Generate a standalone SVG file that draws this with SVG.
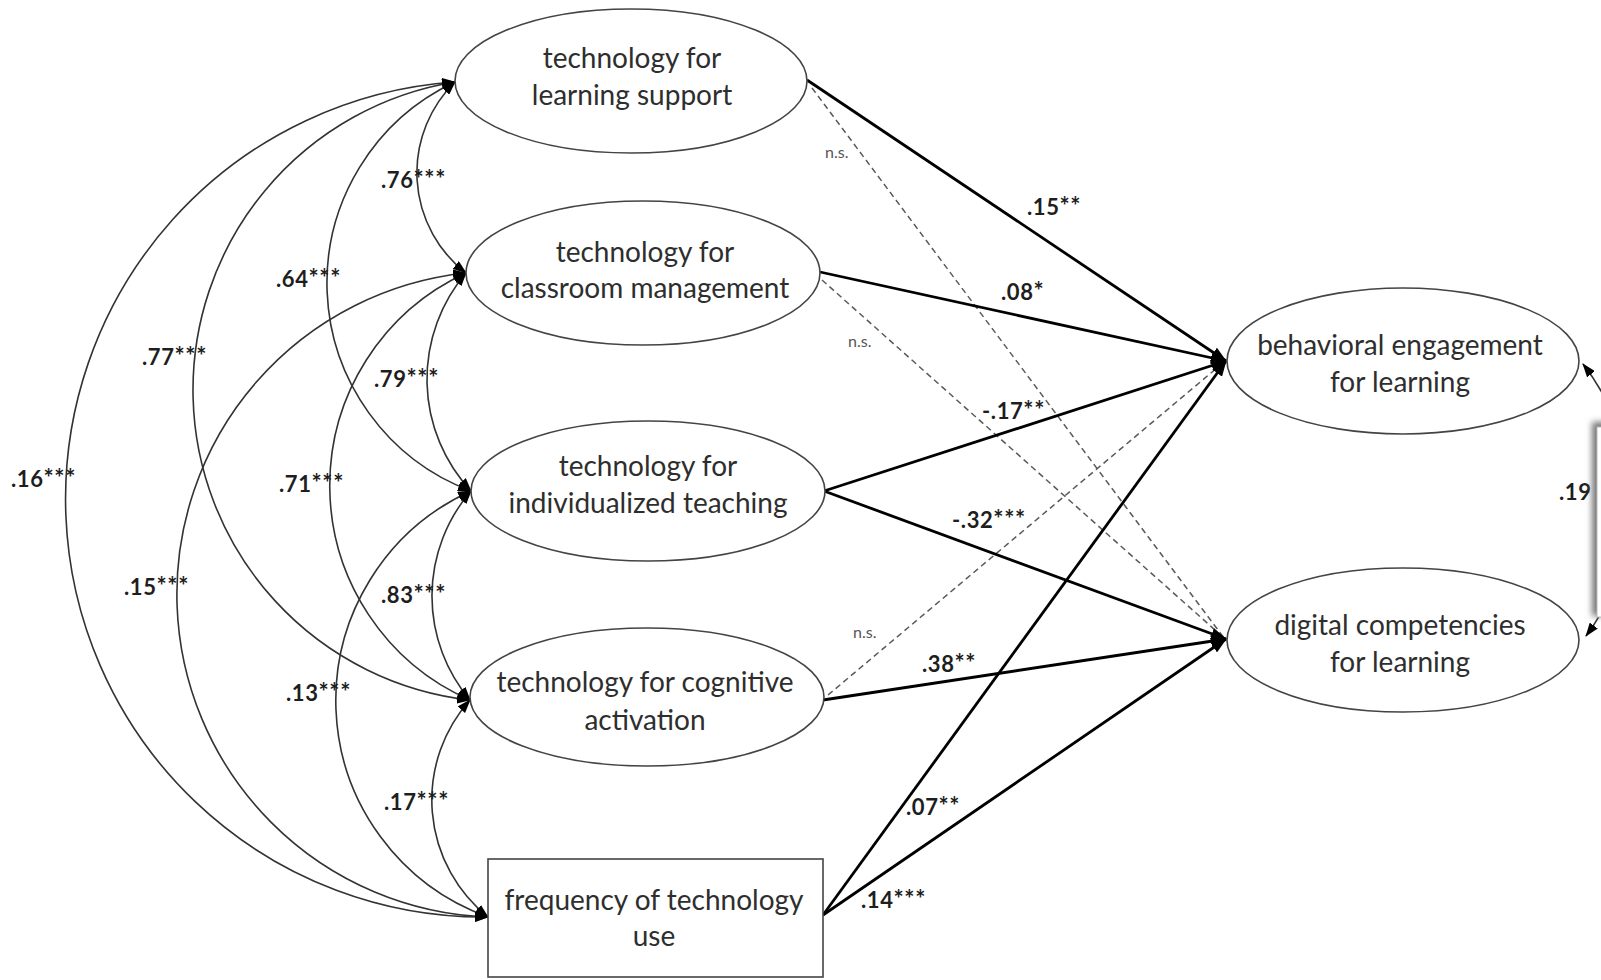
<svg xmlns="http://www.w3.org/2000/svg" width="1601" height="980" viewBox="0 0 1601 980">
<style>
.node{fill:#fff;stroke:#444;stroke-width:1.6}
.nt{font-family:Lato,"Open Sans",sans-serif;font-size:28px;fill:#2e2e2e;text-anchor:middle}
.lbl{font-family:Lato,"Open Sans",sans-serif;font-size:22px;font-weight:bold;fill:#1e1e1e;letter-spacing:0.6px}
.st{font-size:24px}
.ns{font-family:Lato,"Open Sans",sans-serif;font-size:16px;fill:#555}
.cor{fill:none;stroke:#333;stroke-width:1.6;marker-start:url(#ah);marker-end:url(#ah)}
.sol{fill:none;stroke:#000;stroke-width:2.8;marker-end:url(#ah2)}
.das{fill:none;stroke:#5a5a5a;stroke-width:1.5;stroke-dasharray:6 4}
</style>
<defs>
<marker id="ah" viewBox="0 0 14 10" markerWidth="14" markerHeight="10" refX="13" refY="5" orient="auto-start-reverse" markerUnits="userSpaceOnUse">
<path d="M0,0 L14,5 L0,10 z" fill="#000"/>
</marker>
<marker id="ah2" viewBox="0 0 16 12" markerWidth="16" markerHeight="12" refX="15" refY="6" orient="auto" markerUnits="userSpaceOnUse">
<path d="M0,0 L16,6 L0,12 z" fill="#000"/>
</marker>
<filter id="blur" x="-50%" y="-20%" width="200%" height="140%">
<feGaussianBlur stdDeviation="3"/>
</filter>
</defs>
<rect width="1601" height="980" fill="#fff"/>

<g id="connectors">
<path class="cor" d="M455,82 A127,127 0 0 0 466,273"/>
<path class="cor" d="M466,273 A164,164 0 0 0 471,491"/>
<path class="cor" d="M471,491 A161,161 0 0 0 470,700"/>
<path class="cor" d="M470,700 A150,150 0 0 0 488,917"/>
<path class="cor" d="M455,82 A222,222 0 0 0 471,491"/>
<path class="cor" d="M466,273 A234,234 0 0 0 470,700"/>
<path class="cor" d="M471,491 A230,230 0 0 0 488,917"/>
<path class="cor" d="M455,82 A312,312 0 0 0 470,700"/>
<path class="cor" d="M466,273 A323,323 0 0 0 488,917"/>
<path class="cor" d="M455,82 A418,418 0 0 0 488,917"/>
<path class="cor" d="M1583,364 A224,224 0 0 1 1586,636"/>
<path class="das" d="M812,88 L1224,638"/>
<path class="das" d="M822,280 L1224,638"/>
<path class="das" d="M828,695 L1224,362"/>
<path class="sol" d="M807,80 L1226,361"/>
<path class="sol" d="M820,272 L1226,361"/>
<path class="sol" d="M824,491 L1226,361"/>
<path class="sol" d="M824,491 L1226,639"/>
<path class="sol" d="M823,700 L1226,639"/>
<path class="sol" d="M823,915 L1226,361"/>
<path class="sol" d="M823,915 L1226,639"/>
</g>

<g id="labels">
<text class="lbl" x="381" y="188">.76<tspan class="st">***</tspan></text>
<text class="lbl" x="276" y="287">.64<tspan class="st">***</tspan></text>
<text class="lbl" x="142" y="365">.77<tspan class="st">***</tspan></text>
<text class="lbl" x="374" y="387">.79<tspan class="st">***</tspan></text>
<text class="lbl" x="11" y="487">.16<tspan class="st">***</tspan></text>
<text class="lbl" x="279" y="492">.71<tspan class="st">***</tspan></text>
<text class="lbl" x="124" y="595">.15<tspan class="st">***</tspan></text>
<text class="lbl" x="381" y="603">.83<tspan class="st">***</tspan></text>
<text class="lbl" x="286" y="701">.13<tspan class="st">***</tspan></text>
<text class="lbl" x="384" y="810">.17<tspan class="st">***</tspan></text>
<text class="lbl" x="1027" y="215">.15<tspan class="st">**</tspan></text>
<text class="lbl" x="1001" y="300">.08<tspan class="st">*</tspan></text>
<text class="lbl" x="982" y="419">-.17<tspan class="st">**</tspan></text>
<text class="lbl" x="952" y="528">-.32<tspan class="st">***</tspan></text>
<text class="lbl" x="922" y="672">.38<tspan class="st">**</tspan></text>
<text class="lbl" x="906" y="815">.07<tspan class="st">**</tspan></text>
<text class="lbl" x="861" y="908">.14<tspan class="st">***</tspan></text>
<text class="ns" x="825" y="158">n.s.</text>
<text class="ns" x="848" y="347">n.s.</text>
<text class="ns" x="853" y="638">n.s.</text>
<text class="lbl" x="1559" y="500">.19</text>
</g>

<g id="n1">
<ellipse class="node" cx="631" cy="81" rx="176" ry="72"/>
<text class="nt" x="632" y="68">technology for</text>
<text class="nt" x="632" y="105">learning support</text>
</g>
<g id="n2">
<ellipse class="node" cx="643" cy="273" rx="177" ry="72"/>
<text class="nt" x="645" y="262">technology for</text>
<text class="nt" x="645" y="298">classroom management</text>
</g>
<g id="n3">
<ellipse class="node" cx="648" cy="491" rx="177" ry="70"/>
<text class="nt" x="648" y="476">technology for</text>
<text class="nt" x="648" y="513">individualized teaching</text>
</g>
<g id="n4">
<ellipse class="node" cx="647" cy="697" rx="177" ry="69"/>
<text class="nt" x="645" y="692">technology for cognitive</text>
<text class="nt" x="645" y="730">activation</text>
</g>
<g id="n5">
<rect class="node" x="488" y="859" width="335" height="118"/>
<text class="nt" x="654" y="910">frequency of technology</text>
<text class="nt" x="654" y="946">use</text>
</g>
<g id="n6">
<ellipse class="node" cx="1403" cy="361" rx="176" ry="73"/>
<text class="nt" x="1400" y="355">behavioral engagement</text>
<text class="nt" x="1400" y="392">for learning</text>
</g>
<g id="n7">
<ellipse class="node" cx="1403" cy="640" rx="176" ry="72"/>
<text class="nt" x="1400" y="635">digital competencies</text>
<text class="nt" x="1400" y="672">for learning</text>
</g>

<g id="overlay">
<rect x="1592" y="422" width="40" height="194" fill="#777" filter="url(#blur)"/>
<rect x="1597" y="427" width="30" height="190" fill="#fff" stroke="#bbb" stroke-width="1"/>
</g>
</svg>
